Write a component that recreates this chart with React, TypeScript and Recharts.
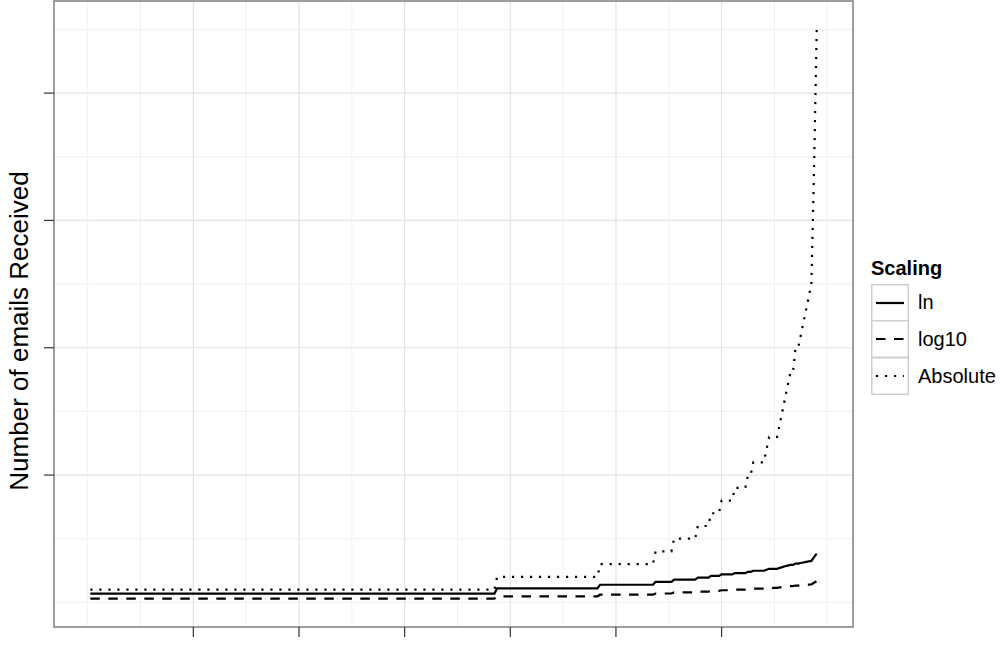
import React from "react";
import {
  LineChart,
  Line,
  XAxis,
  YAxis,
  CartesianGrid,
  ReferenceArea,
  Legend,
} from "recharts";

// sorted email counts per sender, stored as runs: level repeated runLength times
const countLevels = [1, 2, 3, 4, 5, 6, 7, 8, 9, 10, 11, 12, 13, 14, 15, 16, 17, 18, 20, 21, 22, 23, 24, 25, 34, 45];
const runLengths = [154, 39, 21, 7, 9, 5, 4, 5, 5, 2, 5, 1, 4, 1, 1, 1, 1, 2, 2, 1, 1, 1, 1, 1, 1, 1];

const xMajorTicks = [40, 80, 120, 160, 200, 240];
const xMinorGrid = [0, 20, 60, 100, 140, 180, 220, 260, 280];
const yMajorTicks = [10, 20, 30, 40];
const yMinorGrid = [0, 5, 15, 25, 35, 45];

const seriesNames = ["ln", "log10", "Absolute"];
const seriesKeys = ["ln", "log10", "abs"];
const seriesDash = ["", "9.5 8.5", "2.2 6.8"];

const counts: number[] = [];
countLevels.forEach((c, i) => {
  for (let k = 0; k < runLengths[i]; k++) counts.push(c);
});

// the three scalings of the same counts (ln(n+1), log10(n+1), n)
const data = counts.map((c, i) => ({
  rank: i + 1,
  ln: Math.log(c + 1),
  log10: Math.log10(c + 1),
  abs: c,
}));

const n = data.length;
const xPad = (n - 1) * 0.05;
const yMin = Math.log10(2);
const yMax = Math.max(...counts);
const yPad = (yMax - yMin) * 0.05;
const xDomain = [1 - xPad, n + xPad];
const yDomain = [yMin - yPad, yMax + yPad];

const FONT = "'Liberation Sans', Arial, Helvetica, sans-serif";
const blank = () => "";

function YTitle() {
  return (
    <text
      x={28}
      y={331}
      transform="rotate(-90 28 331)"
      textAnchor="middle"
      fontSize={26}
      fontFamily={FONT}
      fill="#000"
    >
      Number of emails Received
    </text>
  );
}

function ScalingLegend() {
  return (
    <div style={{ fontFamily: FONT, color: "#000" }}>
      <div style={{ fontSize: 20, fontWeight: "bold", lineHeight: "24px", marginBottom: 4 }}>Scaling</div>
      {seriesNames.map((name, i) => (
        <div key={name} style={{ display: "flex", alignItems: "center", height: 37 }}>
          <svg width={38} height={38} style={{ display: "block", marginTop: i === 0 ? 0 : -1 }}>
            <rect x={0.75} y={0.75} width={36.5} height={36.5} fill="#fff" stroke="#cfcfcf" strokeWidth={1.5} />
            <line
              x1={5}
              x2={33}
              y1={19}
              y2={19}
              stroke="#000"
              strokeWidth={2.2}
              strokeDasharray={seriesDash[i] || undefined}
            />
          </svg>
          <span style={{ fontSize: 20, marginLeft: 9 }}>{name}</span>
        </div>
      ))}
    </div>
  );
}

export default function App() {
  return (
    <div style={{ position: "absolute", left: 0, top: 0, width: 1000, height: 652, background: "#fff" }}>
      <LineChart
        width={1000}
        height={652}
        data={data}
        margin={{ top: 1, right: 147, bottom: 0, left: 44 }}
      >
        <CartesianGrid
          stroke="#f0f0f0"
          strokeWidth={1}
          horizontalValues={yMinorGrid}
          verticalValues={xMinorGrid}
        />
        <CartesianGrid
          stroke="#e3e3e3"
          strokeWidth={1.2}
          horizontalValues={yMajorTicks}
          verticalValues={xMajorTicks}
        />
        <XAxis
          dataKey="rank"
          type="number"
          domain={xDomain}
          allowDataOverflow
          ticks={xMajorTicks}
          tickFormatter={blank}
          tickSize={10}
          tickLine={{ stroke: "#333", strokeWidth: 1.2 }}
          axisLine={false}
          height={25}
        />
        <YAxis
          type="number"
          domain={yDomain}
          allowDataOverflow
          ticks={yMajorTicks}
          tickFormatter={blank}
          tickSize={10}
          tickLine={{ stroke: "#333", strokeWidth: 1.2 }}
          axisLine={false}
          width={10}
          label={<YTitle />}
        />
        <ReferenceArea
          x1={xDomain[0]}
          x2={xDomain[1]}
          y1={yDomain[0]}
          y2={yDomain[1]}
          fill="none"
          fillOpacity={0}
          stroke="#7f7f7f"
          strokeWidth={1.5}
        />
        {seriesKeys.map((key, i) => (
          <Line
            key={key}
            dataKey={key}
            name={seriesNames[i]}
            type="linear"
            stroke="#000"
            strokeWidth={2.2}
            strokeDasharray={seriesDash[i] || undefined}
            strokeLinecap="butt"
            dot={false}
            activeDot={false}
            isAnimationActive={false}
          />
        ))}
        <Legend
          layout="vertical"
          align="center"
          verticalAlign="middle"
          content={<ScalingLegend />}
          wrapperStyle={{ position: "absolute", left: 871, top: 256, width: 129 }}
        />
      </LineChart>
    </div>
  );
}
